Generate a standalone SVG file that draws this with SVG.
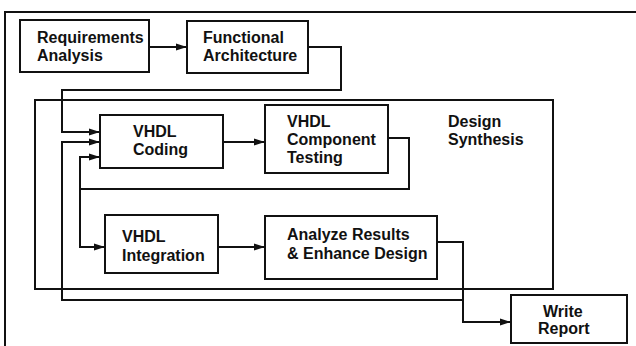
<svg xmlns="http://www.w3.org/2000/svg" width="636" height="346" viewBox="0 0 636 346">
  <style>
    .box { fill: none; stroke: #111; stroke-width: 2; }
    .frame { fill: none; stroke: #111; stroke-width: 2; }
    .wire { fill: none; stroke: #111; stroke-width: 2; }
    .lbl { font-family: "Liberation Sans", Arial, sans-serif; font-weight: bold; font-size: 16px; fill: #111; }
  </style>
  <defs>
    <marker id="arrow" markerUnits="userSpaceOnUse" markerWidth="12" markerHeight="8" refX="11" refY="4" orient="auto">
      <path d="M0,0.5 L11,4 L0,7.5 z" fill="#111"/>
    </marker>
  </defs>
  <rect width="636" height="346" fill="#fff"/>

  <!-- outer frame (top and left edges) -->
  <path class="frame" d="M5,346 V12 H636"/>

  <g id="design-synthesis">
    <rect class="box" x="35" y="100" width="518" height="189"/>
    <text class="lbl" x="448" y="127">Design</text>
    <text class="lbl" x="448" y="145">Synthesis</text>
  </g>

  <g id="requirements-analysis">
    <rect class="box" x="20" y="20" width="129" height="52"/>
    <text class="lbl" x="37" y="43">Requirements</text>
    <text class="lbl" x="37" y="61">Analysis</text>
  </g>

  <g id="functional-architecture">
    <rect class="box" x="187" y="21" width="121" height="52"/>
    <text class="lbl" x="203" y="43">Functional</text>
    <text class="lbl" x="203" y="61">Architecture</text>
  </g>

  <g id="vhdl-coding">
    <rect class="box" x="100" y="115" width="123" height="53"/>
    <text class="lbl" x="133" y="137">VHDL</text>
    <text class="lbl" x="133" y="155">Coding</text>
  </g>

  <g id="vhdl-component-testing">
    <rect class="box" x="265" y="105" width="123" height="68"/>
    <text class="lbl" x="287" y="127">VHDL</text>
    <text class="lbl" x="287" y="145">Component</text>
    <text class="lbl" x="287" y="163">Testing</text>
  </g>

  <g id="vhdl-integration">
    <rect class="box" x="105" y="215" width="113" height="58"/>
    <text class="lbl" x="122" y="242">VHDL</text>
    <text class="lbl" x="122" y="261">Integration</text>
  </g>

  <g id="analyze-results">
    <rect class="box" x="265" y="216" width="172" height="63"/>
    <text class="lbl" x="287" y="240">Analyze Results</text>
    <text class="lbl" x="287" y="259">&amp; Enhance Design</text>
  </g>

  <g id="write-report">
    <rect class="box" x="511" y="295" width="116" height="48"/>
    <text class="lbl" x="543" y="317">Write</text>
    <text class="lbl" x="538" y="334">Report</text>
  </g>

  <g id="connectors">
    <path class="wire" d="M149,47 H187" marker-end="url(#arrow)"/>
    <path class="wire" d="M308,47 H341 V90 H62 V132 H100" marker-end="url(#arrow)"/>
    <path class="wire" d="M223,142 H265" marker-end="url(#arrow)"/>
    <path class="wire" d="M388,138 H409 V189 H80 V157 H100" marker-end="url(#arrow)"/>
    <path class="wire" d="M80,189 V247 H105" marker-end="url(#arrow)"/>
    <path class="wire" d="M218,247 H265" marker-end="url(#arrow)"/>
    <path class="wire" d="M437,242 H463 V322 H511" marker-end="url(#arrow)"/>
    <path class="wire" d="M463,300 H62 V142 H100" marker-end="url(#arrow)"/>
  </g>
</svg>
